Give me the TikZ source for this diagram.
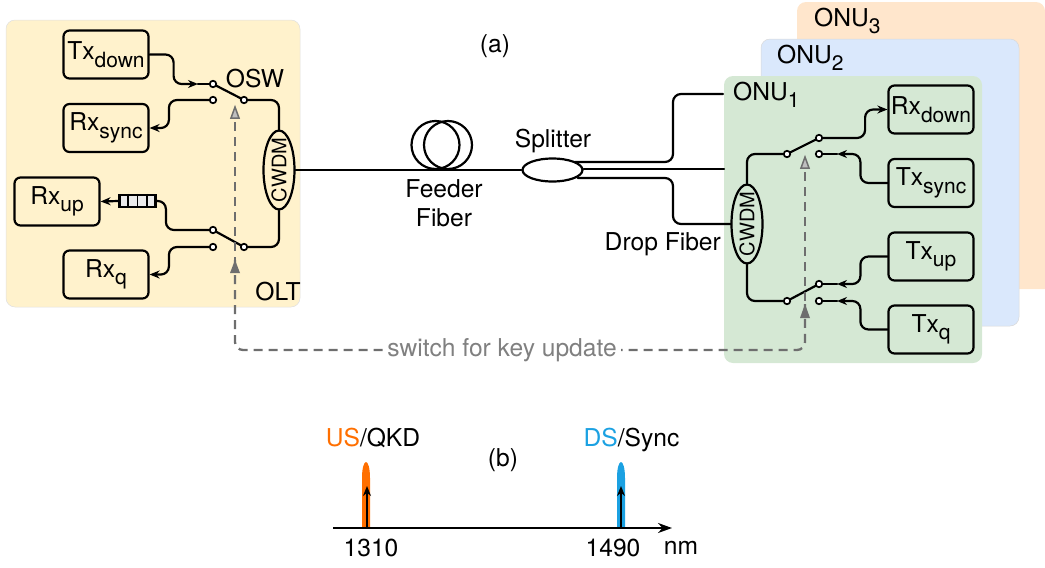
\documentclass[tikz,border=0pt]{standalone}
\usepackage{fontspec}
\setmainfont{TeX Gyre Heros}
\usetikzlibrary{arrows.meta,calc,shapes.geometric}
\definecolor{oltfill}{HTML}{FFF2CC}
\definecolor{onuA}{HTML}{D5E8D4}
\definecolor{onuB}{HTML}{DAE8FC}
\definecolor{onuC}{HTML}{FFE6CC}
\definecolor{dashgray}{HTML}{6E6E6E}
\definecolor{textgray}{HTML}{808080}
\definecolor{usorange}{HTML}{FF6F00}
\definecolor{dsblue}{HTML}{1BA1E2}
\newcommand{\subs}[1]{\raisebox{-0.3em}{\fontsize{21}{22}\selectfont #1}}
\tikzset{
  lbl/.style={inner sep=0pt,font=\fontsize{24.6}{27}\selectfont},
  unit/.style={draw=black,line width=2.2pt,rounded corners=6,minimum width=85,minimum height=48,inner sep=0pt,font=\fontsize{24.6}{27}\selectfont},
  wire/.style={draw=black,line width=2.2pt,rounded corners=8,line cap=round},
  arrowed/.style={wire,-{Stealth[length=10,width=8]}},
  term/.style={circle,draw=black,fill=white,line width=1.7pt,minimum size=6.5,inner sep=0pt},
  cwdm/.style={ellipse,draw=black,line width=2.2pt,inner sep=0pt},
  ctl/.style={draw=dashgray,line width=2.3pt,dash pattern=on 9pt off 6pt,rounded corners=8},
}
\begin{document}
\begin{tikzpicture}[x=1pt,y=-1pt]
\useasboundingbox (0,0) rectangle (1045,568);
% panels
\fill[onuC,rounded corners=9] (1045,289) -- (797,289) -- (797,2) -- (1045,2) [sharp corners] -- cycle;
\filldraw[fill=onuB,draw=black!15,line width=.5pt,rounded corners=9] (761,39) rectangle (1019,326);
\fill[onuA,rounded corners=9] (724,76) rectangle (982,363);
\filldraw[fill=oltfill,draw=black!12,line width=.5pt,rounded corners=9] (6,20) rectangle (300,307);
% panel labels
\node[lbl,anchor=base west] (l3) at (814,26) {ONU\subs{3}};
\node[lbl,anchor=base west] (l2) at (777,63) {ONU\subs{2}};
\node[lbl,anchor=base west] (l1) at (733,100) {ONU\subs{1}};
\node[lbl,anchor=base] (a) at (495,52) {(a)};
\node[lbl,anchor=base] (b) at (503,466) {(b)};
\node[lbl,anchor=base] (osw) at (255,87) {OSW};
\node[lbl,anchor=base] (olt) at (278,300) {OLT};
\node[lbl,anchor=base] (feeder) at (444,197) {Feeder};
\node[lbl,anchor=base] (fib) at (444,226) {Fiber};
\node[lbl,anchor=base] (split) at (553,147) {Splitter};
\node[lbl,anchor=base east] (drop) at (721,250) {Drop Fiber};
% OLT units
\node[unit] (txdown) at (106,54.5) {Tx\subs{down}};
\node[unit] (rxsync) at (106,128) {Rx\subs{sync}};
\node[unit] (rxup) at (57,201.5) {Rx\subs{up}};
\node[unit] (rxq) at (106,274.5) {Rx\subs{q}};
% ONU units
\node[unit] (rxdown) at (931,109.5) {Rx\subs{down}};
\node[unit] (txsync) at (931,183) {Tx\subs{sync}};
\node[unit] (txup) at (931,256.5) {Tx\subs{up}};
\node[unit] (txq) at (931,329.5) {Tx\subs{q}};
% CWDM
\node[cwdm,minimum width=31,minimum height=79] (cwl) at (279,170) {};
\node[rotate=90,inner sep=0pt,font=\fontsize{20}{21}\selectfont] (cwlt) at (279,170) {CWDM};
\node[cwdm,minimum width=31,minimum height=79] (cwr) at (747,224) {};
\node[rotate=90,inner sep=0pt,font=\fontsize{20}{21}\selectfont] (cwrt) at (747,224) {CWDM};
% switch terminals
\node[term] (la) at (213,84) {};
\node[term] (lb) at (213,100) {};
\node[term] (lc) at (244,100) {};
\node[term] (ld) at (213,230) {};
\node[term] (le) at (213,247) {};
\node[term] (lf) at (244,247) {};
\node[term] (ra) at (787,154) {};
\node[term] (rb) at (819,138) {};
\node[term] (rc) at (819,154) {};
\node[term] (rd) at (787,301) {};
\node[term] (re) at (819,284) {};
\node[term] (rf) at (819,301) {};
\draw[wire] (la) -- (lc);
\draw[wire] (ld) -- (lf);
\draw[wire] (ra) -- (rb);
\draw[wire] (rd) -- (re);
% queue
\node[draw=black,line width=2.2pt,fill=black!8,minimum width=36,minimum height=12,inner sep=0pt] (queue) at (137.5,201) {};
\foreach \d in {-9.25,0,9.25} \draw[black,line width=1.7pt] ($(queue.north)+(\d,0)$) -- ($(queue.south)+(\d,0)$);
% OLT wires
\coordinate (tipa) at (198,84);
\draw[arrowed] (txdown.east) -- ++(24,0) |- (tipa);
\draw[wire] (tipa) -- (la.west);
\draw[arrowed] (lb.west) -- ++(-40,0) |- (rxsync.east);
\draw[arrowed] (queue.west) -- (rxup.east);
\draw[wire] (ld.west) -- ++(-43,0) |- (queue.east);
\draw[arrowed] (le.west) -- ++(-40,0) |- (rxq.east);
\draw[wire] (lc.east) -| (cwl.north);
\draw[wire] (lf.east) -| (cwl.south);
% fibre
\node[cwdm,minimum width=60,minimum height=23,fill=white] (splt) at (552.5,170) {};
\node[circle,draw=black,line width=2.2pt,minimum size=48,inner sep=0pt] (coila) at (435.5,145) {};
\node[circle,draw=black,line width=2.2pt,minimum size=48,inner sep=0pt] (coilb) at (448,145) {};
\draw[wire] (cwl.east) -- (splt.west);
\coordinate (onutop) at (723,94);
\coordinate (onumid) at (724,169);
\draw[wire] ($(splt.east)+(-9,-8)$) -- (673,162) -- (673,94) -- (onutop);
\draw[wire] ($(splt.east)+(0,-1)$) -- (onumid);
\draw[wire] ($(splt.east)+(-6,8)$) -- (673,178) |- (cwr.west);
% ONU wires
\draw[wire] (cwr.north) |- (ra.west);
\draw[wire] (cwr.south) |- (rd.west);
\draw[arrowed] (rb.east) -- ++(42,0) |- (rxdown.west);
\coordinate (tipb) at (837,154);
\coordinate (tipc) at (837,284);
\coordinate (tipd) at (837,301);
\draw[arrowed] (txsync.west) -- ++(-27,0) |- (tipb);
\draw[wire] (tipb) -- (rc.east);
\draw[arrowed] (txup.west) -- ++(-27,0) |- (tipc);
\draw[wire] (tipc) -- (re.east);
\draw[arrowed] (txq.west) -- ++(-27,0) |- (tipd);
\draw[wire] (tipd) -- (rf.east);
% control line
\coordinate (ctlL) at (235,260);
\coordinate (ctlLt) at (235,107);
\coordinate (ctlR) at (805,304);
\coordinate (ctlRt) at (805,157);
\draw[ctl] (ctlL) -- (235,350) -- (805,350) -- (ctlR);
\draw[ctl] (ctlLt) -- (235,262);
\draw[ctl] (ctlRt) -- (805,304);
\fill[dashgray] (ctlL) -- ++(5,13) -- ++(-10,0) -- cycle;
\fill[dashgray] (ctlR) -- ++(5,14) -- ++(-10,0) -- cycle;
\filldraw[draw=dashgray,fill=black!25,line width=1.5pt] (ctlLt) -- ++(4,11) -- ++(-8,0) -- cycle;
\filldraw[draw=dashgray,fill=black!25,line width=1.5pt] (ctlRt) -- ++(4,11) -- ++(-8,0) -- cycle;
\node[lbl,text=textgray,fill=white,inner xsep=4pt,inner ysep=3pt,anchor=base] (swk) at (502,356) {switch for key update};
% spectrum
\fill[usorange] (362,528) -- (362,478) .. controls (362,468) and (364,462) .. (366,462) .. controls (368,462) and (370,468) .. (370,478) -- (370,528) -- cycle;
\fill[dsblue] (617,528) -- (617,478) .. controls (617,468) and (619,462) .. (621,462) .. controls (623,462) and (625,468) .. (625,478) -- (625,528) -- cycle;
\coordinate (axs) at (333,528);
\coordinate (axe) at (672,528);
\coordinate (pka) at (367,528);
\coordinate (pkb) at (621,528);
\draw[line width=2.2pt,-{Stealth[length=14,width=10]}] (axs) -- (axe);
\draw[line width=2.2pt,-{Stealth[length=10,width=8]}] (pka) -- (367,486);
\draw[line width=2.2pt,-{Stealth[length=10,width=8]}] (pkb) -- (621,486);
\node[lbl,anchor=base] (usl) at (373,446) {\textcolor{usorange}{US}/QKD};
\node[lbl,anchor=base] (dsl) at (631.5,446) {\textcolor{dsblue}{DS}/Sync};
\node[lbl,anchor=base] (n1) at (371,556) {1310};
\node[lbl,anchor=base] (n2) at (613,556) {1490};
\node[lbl,anchor=base] (nm) at (681,554) {nm};
\end{tikzpicture}
\end{document}
